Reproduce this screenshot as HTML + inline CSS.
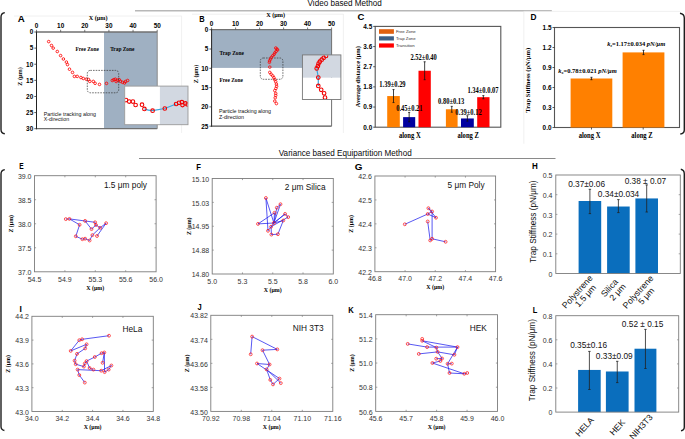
<!DOCTYPE html>
<html><head><meta charset="utf-8"><style>
html,body{margin:0;padding:0;background:#fff;width:685px;height:439px;overflow:hidden}
svg{display:block}
</style></head><body>
<svg width="685" height="439" viewBox="0 0 685 439">
<rect width="685" height="439" fill="#fff"/>
<line x1="135.00" y1="10.80" x2="551.80" y2="10.80" stroke="#b8b8b8" stroke-width="1.6"/>
<text x="307.6" y="6.2" font-family="'Liberation Sans', sans-serif" font-size="8.5" textLength="74.3" lengthAdjust="spacingAndGlyphs" fill="#0a0a0a">Video based Method</text>
<text x="278.8" y="155.9" font-family="'Liberation Sans', sans-serif" font-size="8.5" textLength="132.9" lengthAdjust="spacingAndGlyphs" fill="#0a0a0a">Variance based Equipartition Method</text>
<line x1="139.00" y1="158.50" x2="555.50" y2="158.50" stroke="#8a8a8a" stroke-width="1.2"/>
<path d="M4.8 12.6 Q1.0 13.2 1.0 17 L1.0 129.5 Q1.0 133.3 4.8 133.8" stroke="#1e1e1e" stroke-width="1.4" fill="none"/>
<path d="M680 13.2 Q684.3 14 684.3 18 L684.3 130 Q684.3 133.6 680.3 134" stroke="#1e1e1e" stroke-width="1.4" fill="none"/>
<path d="M4.8 169.6 Q1.0 170.2 1.0 174 L1.0 426.5 Q1.0 429.8 4.4 430.5" stroke="#1e1e1e" stroke-width="1.4" fill="none"/>
<path d="M680.8 169.3 Q684.3 170 684.3 174 L684.3 427 Q684.3 430.3 681 430.8" stroke="#1e1e1e" stroke-width="1.4" fill="none"/>
<line x1="14.00" y1="16.00" x2="181.60" y2="16.00" stroke="#ececec" stroke-width="0.8"/>
<line x1="181.60" y1="16.00" x2="181.60" y2="133.00" stroke="#ececec" stroke-width="0.8"/>
<line x1="343.40" y1="14.00" x2="343.40" y2="133.00" stroke="#ececec" stroke-width="0.8"/>
<line x1="192.00" y1="14.20" x2="343.40" y2="14.20" stroke="#ececec" stroke-width="0.8"/>
<line x1="523.80" y1="11.60" x2="523.80" y2="143.70" stroke="#ececec" stroke-width="0.8"/>
<line x1="523.80" y1="11.40" x2="680.00" y2="11.40" stroke="#ececec" stroke-width="0.8"/>
<text x="17.70" y="21.90" font-family="'Liberation Sans', sans-serif" font-size="8.5" font-weight="700" textLength="7.0" lengthAdjust="spacingAndGlyphs">A</text>
<rect x="104.00" y="32.00" width="53.20" height="96.70" fill="#9fb0c2" stroke="none" stroke-width="1"/>
<line x1="36.50" y1="32.00" x2="157.20" y2="32.00" stroke="#707070" stroke-width="1.4"/>
<line x1="36.50" y1="128.70" x2="157.20" y2="128.70" stroke="#707070" stroke-width="1.2"/>
<line x1="157.20" y1="32.00" x2="157.20" y2="128.70" stroke="#8a8a8a" stroke-width="1.0"/>
<line x1="36.50" y1="31.30" x2="36.50" y2="129.30" stroke="#222" stroke-width="1.0"/>
<line x1="36.50" y1="29.80" x2="36.50" y2="32.00" stroke="#555" stroke-width="0.8"/>
<text x="36.50" y="27.50" font-family="'Liberation Sans', sans-serif" font-size="6.4" font-weight="700" text-anchor="middle" fill="#000">0</text>
<line x1="60.64" y1="29.80" x2="60.64" y2="32.00" stroke="#555" stroke-width="0.8"/>
<text x="60.64" y="27.50" font-family="'Liberation Sans', sans-serif" font-size="6.4" font-weight="700" text-anchor="middle" fill="#000">10</text>
<line x1="84.78" y1="29.80" x2="84.78" y2="32.00" stroke="#555" stroke-width="0.8"/>
<text x="84.78" y="27.50" font-family="'Liberation Sans', sans-serif" font-size="6.4" font-weight="700" text-anchor="middle" fill="#000">20</text>
<line x1="108.92" y1="29.80" x2="108.92" y2="32.00" stroke="#555" stroke-width="0.8"/>
<text x="108.92" y="27.50" font-family="'Liberation Sans', sans-serif" font-size="6.4" font-weight="700" text-anchor="middle" fill="#000">30</text>
<line x1="133.06" y1="29.80" x2="133.06" y2="32.00" stroke="#555" stroke-width="0.8"/>
<text x="133.06" y="27.50" font-family="'Liberation Sans', sans-serif" font-size="6.4" font-weight="700" text-anchor="middle" fill="#000">40</text>
<line x1="157.20" y1="29.80" x2="157.20" y2="32.00" stroke="#555" stroke-width="0.8"/>
<text x="157.20" y="27.50" font-family="'Liberation Sans', sans-serif" font-size="6.4" font-weight="700" text-anchor="middle" fill="#000">50</text>
<line x1="34.30" y1="32.00" x2="36.50" y2="32.00" stroke="#333" stroke-width="0.8"/>
<text x="33.20" y="34.30" font-family="'Liberation Sans', sans-serif" font-size="6.4" font-weight="700" text-anchor="end" fill="#000">0</text>
<line x1="34.30" y1="48.12" x2="36.50" y2="48.12" stroke="#333" stroke-width="0.8"/>
<text x="33.20" y="50.42" font-family="'Liberation Sans', sans-serif" font-size="6.4" font-weight="700" text-anchor="end" fill="#000">5</text>
<line x1="34.30" y1="64.23" x2="36.50" y2="64.23" stroke="#333" stroke-width="0.8"/>
<text x="33.20" y="66.53" font-family="'Liberation Sans', sans-serif" font-size="6.4" font-weight="700" text-anchor="end" fill="#000">10</text>
<line x1="34.30" y1="80.35" x2="36.50" y2="80.35" stroke="#333" stroke-width="0.8"/>
<text x="33.20" y="82.65" font-family="'Liberation Sans', sans-serif" font-size="6.4" font-weight="700" text-anchor="end" fill="#000">15</text>
<line x1="34.30" y1="96.47" x2="36.50" y2="96.47" stroke="#333" stroke-width="0.8"/>
<text x="33.20" y="98.77" font-family="'Liberation Sans', sans-serif" font-size="6.4" font-weight="700" text-anchor="end" fill="#000">20</text>
<line x1="34.30" y1="112.58" x2="36.50" y2="112.58" stroke="#333" stroke-width="0.8"/>
<text x="33.20" y="114.88" font-family="'Liberation Sans', sans-serif" font-size="6.4" font-weight="700" text-anchor="end" fill="#000">25</text>
<line x1="34.30" y1="128.70" x2="36.50" y2="128.70" stroke="#333" stroke-width="0.8"/>
<text x="33.20" y="131.00" font-family="'Liberation Sans', sans-serif" font-size="6.4" font-weight="700" text-anchor="end" fill="#000">30</text>
<text x="98.20" y="19.60" font-family="'Liberation Serif', serif" font-size="6.2" font-weight="700" text-anchor="middle" fill="#000">X (μm)</text>
<text x="22.20" y="76.50" font-family="'Liberation Serif', serif" font-size="6.2" font-weight="700" text-anchor="middle" fill="#000" transform="rotate(-90 22.2 76.5)">Z (μm)</text>
<text x="87.20" y="51.40" font-family="'Liberation Serif', serif" font-size="5.4" font-weight="700" text-anchor="middle" fill="#000">Free Zone</text>
<text x="122.30" y="50.60" font-family="'Liberation Serif', serif" font-size="5.4" font-weight="700" text-anchor="middle" fill="#000">Trap Zone</text>
<circle cx="48.70" cy="41.60" r="1.3" fill="none" stroke="#ff0000" stroke-width="0.85"/>
<circle cx="51.50" cy="45.50" r="1.3" fill="none" stroke="#ff0000" stroke-width="0.85"/>
<circle cx="53.20" cy="48.10" r="1.3" fill="none" stroke="#ff0000" stroke-width="0.85"/>
<circle cx="57.30" cy="51.50" r="1.3" fill="none" stroke="#ff0000" stroke-width="0.85"/>
<circle cx="60.60" cy="55.60" r="1.3" fill="none" stroke="#ff0000" stroke-width="0.85"/>
<circle cx="63.40" cy="59.00" r="1.3" fill="none" stroke="#ff0000" stroke-width="0.85"/>
<circle cx="66.40" cy="62.10" r="1.3" fill="none" stroke="#ff0000" stroke-width="0.85"/>
<circle cx="67.50" cy="64.60" r="1.3" fill="none" stroke="#ff0000" stroke-width="0.85"/>
<circle cx="69.50" cy="69.20" r="1.3" fill="none" stroke="#ff0000" stroke-width="0.85"/>
<circle cx="72.50" cy="72.40" r="1.3" fill="none" stroke="#ff0000" stroke-width="0.85"/>
<circle cx="74.40" cy="76.40" r="1.3" fill="none" stroke="#ff0000" stroke-width="0.85"/>
<circle cx="77.20" cy="76.40" r="1.3" fill="none" stroke="#ff0000" stroke-width="0.85"/>
<circle cx="80.90" cy="77.50" r="1.3" fill="none" stroke="#ff0000" stroke-width="0.85"/>
<circle cx="83.30" cy="78.50" r="1.3" fill="none" stroke="#ff0000" stroke-width="0.85"/>
<circle cx="86.30" cy="79.20" r="1.3" fill="none" stroke="#ff0000" stroke-width="0.85"/>
<circle cx="88.50" cy="79.50" r="1.3" fill="none" stroke="#ff0000" stroke-width="0.85"/>
<circle cx="89.80" cy="81.40" r="1.3" fill="none" stroke="#ff0000" stroke-width="0.85"/>
<circle cx="93.30" cy="81.40" r="1.3" fill="none" stroke="#ff0000" stroke-width="0.85"/>
<circle cx="95.10" cy="83.30" r="1.3" fill="none" stroke="#ff0000" stroke-width="0.85"/>
<circle cx="99.50" cy="84.40" r="1.3" fill="none" stroke="#ff0000" stroke-width="0.85"/>
<circle cx="106.50" cy="83.40" r="1.3" fill="none" stroke="#ff0000" stroke-width="0.85"/>
<circle cx="112.30" cy="80.50" r="1.3" fill="none" stroke="#ff0000" stroke-width="0.85"/>
<circle cx="113.80" cy="79.70" r="1.3" fill="none" stroke="#ff0000" stroke-width="0.85"/>
<circle cx="115.30" cy="79.20" r="1.3" fill="none" stroke="#ff0000" stroke-width="0.85"/>
<circle cx="116.20" cy="81.50" r="1.3" fill="none" stroke="#ff0000" stroke-width="0.85"/>
<circle cx="117.40" cy="80.20" r="1.3" fill="none" stroke="#ff0000" stroke-width="0.85"/>
<circle cx="119.20" cy="79.70" r="1.3" fill="none" stroke="#ff0000" stroke-width="0.85"/>
<circle cx="120.40" cy="81.30" r="1.3" fill="none" stroke="#ff0000" stroke-width="0.85"/>
<circle cx="122.50" cy="82.30" r="1.3" fill="none" stroke="#ff0000" stroke-width="0.85"/>
<circle cx="124.50" cy="83.00" r="1.3" fill="none" stroke="#ff0000" stroke-width="0.85"/>
<circle cx="125.50" cy="81.50" r="1.3" fill="none" stroke="#ff0000" stroke-width="0.85"/>
<circle cx="127.60" cy="80.50" r="1.3" fill="none" stroke="#ff0000" stroke-width="0.85"/>
<rect x="87.3" y="70.4" width="31.4" height="22.4" rx="3" fill="none" stroke="#333" stroke-width="0.7" stroke-dasharray="1.6 1.1"/>
<text x="43.80" y="115.80" font-family="'Liberation Sans', sans-serif" font-size="5.3" font-weight="400" text-anchor="start" fill="#111">Particle tracking along</text>
<text x="43.80" y="121.40" font-family="'Liberation Sans', sans-serif" font-size="5.3" font-weight="400" text-anchor="start" fill="#111">X-direction</text>
<rect x="124.70" y="86.10" width="35.20" height="38.60" fill="#ffffff" stroke="none" stroke-width="1"/>
<rect x="159.90" y="86.10" width="28.10" height="38.60" fill="#d2d8e1" stroke="none" stroke-width="1"/>
<rect x="124.70" y="86.10" width="63.30" height="38.60" fill="none" stroke="#9a9a9a" stroke-width="0.9"/>
<clipPath id="ciA"><rect x="125.2" y="86.6" width="62.3" height="37.6"/></clipPath><g clip-path="url(#ciA)">
<path d="M144.4 108.9 Q148 110.5 152.6 110.7 L164.8 108.5 L176.1 104" stroke="#3aa6de" stroke-width="1.2" fill="none"/>
<circle cx="126.00" cy="100.10" r="1.8" fill="none" stroke="#f00000" stroke-width="1.1"/>
<circle cx="129.20" cy="101.60" r="1.8" fill="none" stroke="#f00000" stroke-width="1.1"/>
<circle cx="132.90" cy="101.60" r="1.8" fill="none" stroke="#f00000" stroke-width="1.1"/>
<circle cx="135.60" cy="105.00" r="1.8" fill="none" stroke="#f00000" stroke-width="1.1"/>
<circle cx="142.00" cy="104.70" r="1.8" fill="none" stroke="#f00000" stroke-width="1.1"/>
<circle cx="144.40" cy="108.90" r="1.8" fill="none" stroke="#f00000" stroke-width="1.1"/>
<circle cx="152.60" cy="110.70" r="1.8" fill="none" stroke="#f00000" stroke-width="1.1"/>
<circle cx="164.80" cy="108.50" r="1.8" fill="none" stroke="#f00000" stroke-width="1.1"/>
<circle cx="176.10" cy="104.00" r="1.8" fill="none" stroke="#f00000" stroke-width="1.1"/>
<circle cx="179.00" cy="102.80" r="1.8" fill="none" stroke="#f00000" stroke-width="1.1"/>
<circle cx="181.90" cy="102.20" r="1.8" fill="none" stroke="#f00000" stroke-width="1.1"/>
<circle cx="182.50" cy="105.10" r="1.8" fill="none" stroke="#f00000" stroke-width="1.1"/>
<circle cx="185.40" cy="103.40" r="1.8" fill="none" stroke="#f00000" stroke-width="1.1"/>
<circle cx="187.60" cy="104.50" r="1.8" fill="none" stroke="#f00000" stroke-width="1.1"/>
</g>
<text x="199.30" y="21.60" font-family="'Liberation Sans', sans-serif" font-size="8.5" font-weight="700" textLength="5.4" lengthAdjust="spacingAndGlyphs">B</text>
<rect x="211.60" y="29.70" width="120.00" height="38.20" fill="#9fb0c2" stroke="none" stroke-width="1"/>
<line x1="211.60" y1="29.70" x2="331.60" y2="29.70" stroke="#707070" stroke-width="1.2"/>
<line x1="211.60" y1="126.20" x2="331.60" y2="126.20" stroke="#555" stroke-width="1.2"/>
<line x1="331.60" y1="29.70" x2="331.60" y2="126.20" stroke="#707070" stroke-width="1.0"/>
<line x1="211.60" y1="29.10" x2="211.60" y2="126.80" stroke="#222" stroke-width="1.0"/>
<line x1="211.60" y1="27.50" x2="211.60" y2="29.70" stroke="#555" stroke-width="0.8"/>
<text x="211.60" y="25.50" font-family="'Liberation Sans', sans-serif" font-size="6.4" font-weight="700" text-anchor="middle" fill="#000">0</text>
<line x1="235.60" y1="27.50" x2="235.60" y2="29.70" stroke="#555" stroke-width="0.8"/>
<text x="235.60" y="25.50" font-family="'Liberation Sans', sans-serif" font-size="6.4" font-weight="700" text-anchor="middle" fill="#000">10</text>
<line x1="259.60" y1="27.50" x2="259.60" y2="29.70" stroke="#555" stroke-width="0.8"/>
<text x="259.60" y="25.50" font-family="'Liberation Sans', sans-serif" font-size="6.4" font-weight="700" text-anchor="middle" fill="#000">20</text>
<line x1="283.60" y1="27.50" x2="283.60" y2="29.70" stroke="#555" stroke-width="0.8"/>
<text x="283.60" y="25.50" font-family="'Liberation Sans', sans-serif" font-size="6.4" font-weight="700" text-anchor="middle" fill="#000">30</text>
<line x1="307.60" y1="27.50" x2="307.60" y2="29.70" stroke="#555" stroke-width="0.8"/>
<text x="307.60" y="25.50" font-family="'Liberation Sans', sans-serif" font-size="6.4" font-weight="700" text-anchor="middle" fill="#000">40</text>
<line x1="331.60" y1="27.50" x2="331.60" y2="29.70" stroke="#555" stroke-width="0.8"/>
<text x="331.60" y="25.50" font-family="'Liberation Sans', sans-serif" font-size="6.4" font-weight="700" text-anchor="middle" fill="#000">50</text>
<line x1="209.40" y1="29.70" x2="211.60" y2="29.70" stroke="#333" stroke-width="0.8"/>
<text x="208.30" y="32.00" font-family="'Liberation Sans', sans-serif" font-size="6.4" font-weight="700" text-anchor="end" fill="#000">0</text>
<line x1="209.40" y1="49.00" x2="211.60" y2="49.00" stroke="#333" stroke-width="0.8"/>
<text x="208.30" y="51.30" font-family="'Liberation Sans', sans-serif" font-size="6.4" font-weight="700" text-anchor="end" fill="#000">5</text>
<line x1="209.40" y1="68.30" x2="211.60" y2="68.30" stroke="#333" stroke-width="0.8"/>
<text x="208.30" y="70.60" font-family="'Liberation Sans', sans-serif" font-size="6.4" font-weight="700" text-anchor="end" fill="#000">10</text>
<line x1="209.40" y1="87.60" x2="211.60" y2="87.60" stroke="#333" stroke-width="0.8"/>
<text x="208.30" y="89.90" font-family="'Liberation Sans', sans-serif" font-size="6.4" font-weight="700" text-anchor="end" fill="#000">15</text>
<line x1="209.40" y1="106.90" x2="211.60" y2="106.90" stroke="#333" stroke-width="0.8"/>
<text x="208.30" y="109.20" font-family="'Liberation Sans', sans-serif" font-size="6.4" font-weight="700" text-anchor="end" fill="#000">20</text>
<line x1="209.40" y1="126.20" x2="211.60" y2="126.20" stroke="#333" stroke-width="0.8"/>
<text x="208.30" y="128.50" font-family="'Liberation Sans', sans-serif" font-size="6.4" font-weight="700" text-anchor="end" fill="#000">25</text>
<text x="275.60" y="16.60" font-family="'Liberation Serif', serif" font-size="6.2" font-weight="700" text-anchor="middle" fill="#000">X (μm)</text>
<text x="198.20" y="74.00" font-family="'Liberation Serif', serif" font-size="6.2" font-weight="700" text-anchor="middle" fill="#000" transform="rotate(-90 198.2 74)">Z (μm)</text>
<text x="231.70" y="54.70" font-family="'Liberation Serif', serif" font-size="5.4" font-weight="700" text-anchor="middle" fill="#000">Trap Zone</text>
<text x="231.20" y="82.00" font-family="'Liberation Serif', serif" font-size="5.4" font-weight="700" text-anchor="middle" fill="#000">Free Zone</text>
<rect x="260.3" y="58" width="22.6" height="21.3" rx="3" fill="none" stroke="#333" stroke-width="0.7" stroke-dasharray="1.6 1.1"/>
<circle cx="275.80" cy="48.00" r="1.3" fill="none" stroke="#ff0000" stroke-width="0.8"/>
<circle cx="276.90" cy="49.10" r="1.3" fill="none" stroke="#ff0000" stroke-width="0.8"/>
<circle cx="277.60" cy="50.00" r="1.3" fill="none" stroke="#ff0000" stroke-width="0.8"/>
<circle cx="276.10" cy="51.40" r="1.3" fill="none" stroke="#ff0000" stroke-width="0.8"/>
<circle cx="274.90" cy="52.80" r="1.3" fill="none" stroke="#ff0000" stroke-width="0.8"/>
<circle cx="274.10" cy="54.40" r="1.3" fill="none" stroke="#ff0000" stroke-width="0.8"/>
<circle cx="272.80" cy="55.70" r="1.3" fill="none" stroke="#ff0000" stroke-width="0.8"/>
<circle cx="271.40" cy="57.30" r="1.3" fill="none" stroke="#ff0000" stroke-width="0.8"/>
<circle cx="270.50" cy="59.10" r="1.3" fill="none" stroke="#ff0000" stroke-width="0.8"/>
<circle cx="269.60" cy="60.80" r="1.3" fill="none" stroke="#ff0000" stroke-width="0.8"/>
<circle cx="269.40" cy="62.30" r="1.3" fill="none" stroke="#ff0000" stroke-width="0.8"/>
<circle cx="269.80" cy="67.10" r="1.3" fill="none" stroke="#ff0000" stroke-width="0.8"/>
<circle cx="269.80" cy="72.40" r="1.3" fill="none" stroke="#ff0000" stroke-width="0.8"/>
<circle cx="271.10" cy="74.20" r="1.3" fill="none" stroke="#ff0000" stroke-width="0.8"/>
<circle cx="272.80" cy="75.90" r="1.3" fill="none" stroke="#ff0000" stroke-width="0.8"/>
<circle cx="273.90" cy="77.70" r="1.3" fill="none" stroke="#ff0000" stroke-width="0.8"/>
<circle cx="274.80" cy="79.70" r="1.3" fill="none" stroke="#ff0000" stroke-width="0.8"/>
<circle cx="275.70" cy="81.70" r="1.3" fill="none" stroke="#ff0000" stroke-width="0.8"/>
<circle cx="276.40" cy="84.10" r="1.3" fill="none" stroke="#ff0000" stroke-width="0.8"/>
<circle cx="276.60" cy="86.30" r="1.3" fill="none" stroke="#ff0000" stroke-width="0.8"/>
<circle cx="275.90" cy="88.40" r="1.3" fill="none" stroke="#ff0000" stroke-width="0.8"/>
<circle cx="274.80" cy="90.60" r="1.3" fill="none" stroke="#ff0000" stroke-width="0.8"/>
<circle cx="275.70" cy="93.40" r="1.3" fill="none" stroke="#ff0000" stroke-width="0.8"/>
<circle cx="275.70" cy="95.40" r="1.3" fill="none" stroke="#ff0000" stroke-width="0.8"/>
<circle cx="275.20" cy="97.80" r="1.3" fill="none" stroke="#ff0000" stroke-width="0.8"/>
<circle cx="274.80" cy="101.10" r="1.3" fill="none" stroke="#ff0000" stroke-width="0.8"/>
<circle cx="276.40" cy="103.60" r="1.3" fill="none" stroke="#ff0000" stroke-width="0.8"/>
<text x="218.90" y="112.80" font-family="'Liberation Sans', sans-serif" font-size="5.3" font-weight="400" text-anchor="start" fill="#111">Particle tracking along</text>
<text x="218.90" y="118.60" font-family="'Liberation Sans', sans-serif" font-size="5.3" font-weight="400" text-anchor="start" fill="#111">Z-direction</text>
<rect x="302.40" y="54.90" width="38.50" height="22.90" fill="#d2d8e1" stroke="none" stroke-width="1"/>
<rect x="302.40" y="77.80" width="38.50" height="21.70" fill="#ffffff" stroke="none" stroke-width="1"/>
<rect x="302.40" y="54.90" width="38.50" height="44.60" fill="none" stroke="#777" stroke-width="0.9"/>
<clipPath id="ciB"><rect x="302.9" y="55.4" width="37.5" height="43.6"/></clipPath><g clip-path="url(#ciB)">
<path d="M316.7 68.4 L318.3 77.6 L318.3 85.9" stroke="#3aa6de" stroke-width="1.2" fill="none"/>
<circle cx="326.00" cy="55.90" r="1.8" fill="none" stroke="#f00000" stroke-width="1.1"/>
<circle cx="323.70" cy="57.80" r="1.8" fill="none" stroke="#f00000" stroke-width="1.1"/>
<circle cx="321.70" cy="59.70" r="1.8" fill="none" stroke="#f00000" stroke-width="1.1"/>
<circle cx="319.80" cy="61.70" r="1.8" fill="none" stroke="#f00000" stroke-width="1.1"/>
<circle cx="318.60" cy="63.60" r="1.8" fill="none" stroke="#f00000" stroke-width="1.1"/>
<circle cx="317.90" cy="66.10" r="1.8" fill="none" stroke="#f00000" stroke-width="1.1"/>
<circle cx="316.70" cy="68.40" r="1.8" fill="none" stroke="#f00000" stroke-width="1.1"/>
<circle cx="318.30" cy="77.60" r="1.8" fill="none" stroke="#f00000" stroke-width="1.1"/>
<circle cx="318.30" cy="85.90" r="1.8" fill="none" stroke="#f00000" stroke-width="1.1"/>
<circle cx="321.20" cy="89.80" r="1.8" fill="none" stroke="#f00000" stroke-width="1.1"/>
<circle cx="324.10" cy="93.30" r="1.8" fill="none" stroke="#f00000" stroke-width="1.1"/>
<circle cx="325.00" cy="97.50" r="1.8" fill="none" stroke="#f00000" stroke-width="1.1"/>
</g>
<text x="357.50" y="19.80" font-family="'Liberation Sans', sans-serif" font-size="8.5" font-weight="700" textLength="6.9" lengthAdjust="spacingAndGlyphs">C</text>
<rect x="375.20" y="26.40" width="125.60" height="100.80" fill="none" stroke="#555" stroke-width="1.1"/>
<line x1="373.20" y1="127.20" x2="375.20" y2="127.20" stroke="#333" stroke-width="0.8"/>
<text x="372.20" y="129.50" font-family="'Liberation Sans', sans-serif" font-size="6.4" font-weight="700" text-anchor="end" fill="#000">0.0</text>
<line x1="373.20" y1="107.04" x2="375.20" y2="107.04" stroke="#333" stroke-width="0.8"/>
<text x="372.20" y="109.34" font-family="'Liberation Sans', sans-serif" font-size="6.4" font-weight="700" text-anchor="end" fill="#000">0.9</text>
<line x1="373.20" y1="86.88" x2="375.20" y2="86.88" stroke="#333" stroke-width="0.8"/>
<text x="372.20" y="89.18" font-family="'Liberation Sans', sans-serif" font-size="6.4" font-weight="700" text-anchor="end" fill="#000">1.8</text>
<line x1="373.20" y1="66.72" x2="375.20" y2="66.72" stroke="#333" stroke-width="0.8"/>
<text x="372.20" y="69.02" font-family="'Liberation Sans', sans-serif" font-size="6.4" font-weight="700" text-anchor="end" fill="#000">2.7</text>
<line x1="373.20" y1="46.56" x2="375.20" y2="46.56" stroke="#333" stroke-width="0.8"/>
<text x="372.20" y="48.86" font-family="'Liberation Sans', sans-serif" font-size="6.4" font-weight="700" text-anchor="end" fill="#000">3.6</text>
<line x1="373.20" y1="26.40" x2="375.20" y2="26.40" stroke="#333" stroke-width="0.8"/>
<text x="372.20" y="28.70" font-family="'Liberation Sans', sans-serif" font-size="6.4" font-weight="700" text-anchor="end" fill="#000">4.5</text>
<text x="359.80" y="76.70" font-family="'Liberation Serif', serif" font-size="6.4" font-weight="700" text-anchor="middle" fill="#000" transform="rotate(-90 359.8 76.7)">Average distance (μm)</text>
<rect x="379.00" y="29.20" width="14.90" height="4.60" fill="#e0600f" stroke="none" stroke-width="1"/>
<rect x="379.00" y="36.30" width="14.90" height="4.20" fill="#3d5f86" stroke="none" stroke-width="1"/>
<rect x="379.00" y="43.40" width="14.90" height="4.20" fill="#ff0000" stroke="none" stroke-width="1"/>
<text x="395.90" y="33.10" font-family="'Liberation Sans', sans-serif" font-size="4.3" font-weight="400" text-anchor="start" fill="#333">Free Zone</text>
<text x="395.90" y="40.10" font-family="'Liberation Sans', sans-serif" font-size="4.3" font-weight="400" text-anchor="start" fill="#333">Trap Zone</text>
<text x="395.90" y="47.00" font-family="'Liberation Sans', sans-serif" font-size="4.3" font-weight="400" text-anchor="start" fill="#333">Transition</text>
<rect x="387.20" y="96.06" width="12.60" height="31.14" fill="#ff8000" stroke="none" stroke-width="1"/>
<line x1="393.50" y1="89.57" x2="393.50" y2="102.56" stroke="#111" stroke-width="0.8"/>
<line x1="392.50" y1="89.57" x2="394.50" y2="89.57" stroke="#111" stroke-width="0.8"/>
<line x1="392.50" y1="102.56" x2="394.50" y2="102.56" stroke="#111" stroke-width="0.8"/>
<rect x="403.10" y="117.12" width="12.10" height="10.08" fill="#0000a0" stroke="none" stroke-width="1"/>
<line x1="409.15" y1="112.42" x2="409.15" y2="121.82" stroke="#111" stroke-width="0.8"/>
<line x1="408.15" y1="112.42" x2="410.15" y2="112.42" stroke="#111" stroke-width="0.8"/>
<line x1="408.15" y1="121.82" x2="410.15" y2="121.82" stroke="#111" stroke-width="0.8"/>
<rect x="418.50" y="70.75" width="12.30" height="56.45" fill="#ff0000" stroke="none" stroke-width="1"/>
<line x1="424.65" y1="61.79" x2="424.65" y2="79.71" stroke="#111" stroke-width="0.8"/>
<line x1="423.65" y1="61.79" x2="425.65" y2="61.79" stroke="#111" stroke-width="0.8"/>
<line x1="423.65" y1="79.71" x2="425.65" y2="79.71" stroke="#111" stroke-width="0.8"/>
<rect x="445.90" y="109.28" width="11.70" height="17.92" fill="#ff8000" stroke="none" stroke-width="1"/>
<line x1="451.75" y1="106.37" x2="451.75" y2="112.19" stroke="#111" stroke-width="0.8"/>
<line x1="450.75" y1="106.37" x2="452.75" y2="106.37" stroke="#111" stroke-width="0.8"/>
<line x1="450.75" y1="112.19" x2="452.75" y2="112.19" stroke="#111" stroke-width="0.8"/>
<rect x="461.00" y="118.46" width="12.80" height="8.74" fill="#0000a0" stroke="none" stroke-width="1"/>
<line x1="467.40" y1="115.78" x2="467.40" y2="121.15" stroke="#111" stroke-width="0.8"/>
<line x1="466.40" y1="115.78" x2="468.40" y2="115.78" stroke="#111" stroke-width="0.8"/>
<line x1="466.40" y1="121.15" x2="468.40" y2="121.15" stroke="#111" stroke-width="0.8"/>
<rect x="477.20" y="97.18" width="12.30" height="30.02" fill="#ff0000" stroke="none" stroke-width="1"/>
<line x1="483.35" y1="95.62" x2="483.35" y2="98.75" stroke="#111" stroke-width="0.8"/>
<line x1="482.35" y1="95.62" x2="484.35" y2="95.62" stroke="#111" stroke-width="0.8"/>
<line x1="482.35" y1="98.75" x2="484.35" y2="98.75" stroke="#111" stroke-width="0.8"/>
<text x="392.50" y="87.20" font-family="'Liberation Serif', serif" font-size="6.5" font-weight="700" text-anchor="middle" fill="#000" transform="matrix(1 0 0 1.14 0 -12.208)">1.39±0.29</text>
<text x="409.40" y="111.10" font-family="'Liberation Serif', serif" font-size="6.5" font-weight="700" text-anchor="middle" fill="#000" transform="matrix(1 0 0 1.14 0 -15.554)">0.45±0.21</text>
<text x="423.60" y="59.80" font-family="'Liberation Serif', serif" font-size="6.5" font-weight="700" text-anchor="middle" fill="#000" transform="matrix(1 0 0 1.14 0 -8.372)">2.52±0.40</text>
<text x="451.20" y="104.20" font-family="'Liberation Serif', serif" font-size="6.5" font-weight="700" text-anchor="middle" fill="#000" transform="matrix(1 0 0 1.14 0 -14.588)">0.80±0.13</text>
<text x="468.50" y="114.70" font-family="'Liberation Serif', serif" font-size="6.5" font-weight="700" text-anchor="middle" fill="#000" transform="matrix(1 0 0 1.14 0 -16.058)">0.39±0.12</text>
<text x="483.00" y="93.40" font-family="'Liberation Serif', serif" font-size="6.5" font-weight="700" text-anchor="middle" fill="#000" transform="matrix(1 0 0 1.14 0 -13.076)">1.34±0.0.07</text>
<text x="409.80" y="137.60" font-family="'Liberation Serif', serif" font-size="6.6" font-weight="700" text-anchor="middle" fill="#000" transform="matrix(1 0 0 1.1 0 -13.760)">along X</text>
<text x="468.20" y="137.60" font-family="'Liberation Serif', serif" font-size="6.6" font-weight="700" text-anchor="middle" fill="#000" transform="matrix(1 0 0 1.1 0 -13.760)">along Z</text>
<text x="530.50" y="19.80" font-family="'Liberation Sans', sans-serif" font-size="8.5" font-weight="700" textLength="6.0" lengthAdjust="spacingAndGlyphs">D</text>
<rect x="554.50" y="27.50" width="125.00" height="100.00" fill="none" stroke="#555" stroke-width="1.1"/>
<line x1="552.50" y1="127.50" x2="554.50" y2="127.50" stroke="#333" stroke-width="0.8"/>
<text x="551.50" y="129.80" font-family="'Liberation Sans', sans-serif" font-size="6.4" font-weight="700" text-anchor="end" fill="#000">0.0</text>
<line x1="552.50" y1="107.50" x2="554.50" y2="107.50" stroke="#333" stroke-width="0.8"/>
<text x="551.50" y="109.80" font-family="'Liberation Sans', sans-serif" font-size="6.4" font-weight="700" text-anchor="end" fill="#000">0.3</text>
<line x1="552.50" y1="87.50" x2="554.50" y2="87.50" stroke="#333" stroke-width="0.8"/>
<text x="551.50" y="89.80" font-family="'Liberation Sans', sans-serif" font-size="6.4" font-weight="700" text-anchor="end" fill="#000">0.6</text>
<line x1="552.50" y1="67.50" x2="554.50" y2="67.50" stroke="#333" stroke-width="0.8"/>
<text x="551.50" y="69.80" font-family="'Liberation Sans', sans-serif" font-size="6.4" font-weight="700" text-anchor="end" fill="#000">0.9</text>
<line x1="552.50" y1="47.50" x2="554.50" y2="47.50" stroke="#333" stroke-width="0.8"/>
<text x="551.50" y="49.80" font-family="'Liberation Sans', sans-serif" font-size="6.4" font-weight="700" text-anchor="end" fill="#000">1.2</text>
<line x1="552.50" y1="27.50" x2="554.50" y2="27.50" stroke="#333" stroke-width="0.8"/>
<text x="551.50" y="29.80" font-family="'Liberation Sans', sans-serif" font-size="6.4" font-weight="700" text-anchor="end" fill="#000">1.5</text>
<text x="529.60" y="80.30" font-family="'Liberation Serif', serif" font-size="6.6" font-weight="700" text-anchor="middle" fill="#000" transform="rotate(-90 529.6 80.3)">Trap Stiffness (pN/μm)</text>
<rect x="570.60" y="78.50" width="41.70" height="49.00" fill="#ff8000" stroke="none" stroke-width="1"/>
<line x1="591.45" y1="77.30" x2="591.45" y2="79.70" stroke="#111" stroke-width="0.8"/>
<line x1="590.45" y1="77.30" x2="592.45" y2="77.30" stroke="#111" stroke-width="0.8"/>
<line x1="590.45" y1="79.70" x2="592.45" y2="79.70" stroke="#111" stroke-width="0.8"/>
<rect x="622.60" y="52.40" width="41.80" height="75.10" fill="#ff8000" stroke="none" stroke-width="1"/>
<line x1="643.50" y1="50.30" x2="643.50" y2="54.60" stroke="#111" stroke-width="0.8"/>
<line x1="642.50" y1="50.30" x2="644.50" y2="50.30" stroke="#111" stroke-width="0.8"/>
<line x1="642.50" y1="54.60" x2="644.50" y2="54.60" stroke="#111" stroke-width="0.8"/>
<text x="558.3" y="72.6" transform="matrix(1 0 0 1.08 0 -5.808)" font-family="'Liberation Serif', serif" font-size="6.5" font-weight="700"><tspan font-style="italic">k</tspan><tspan font-size="4" dy="1.2" font-style="italic">x</tspan><tspan dy="-1.2">=0.78±0.021 </tspan><tspan font-style="italic">pN/μm</tspan></text>
<text x="607.2" y="46.2" transform="matrix(1 0 0 1.08 0 -3.696)" font-family="'Liberation Serif', serif" font-size="6.5" font-weight="700"><tspan font-style="italic">k</tspan><tspan font-size="4" dy="1.2" font-style="italic">z</tspan><tspan dy="-1.2">=1.17±0.034 </tspan><tspan font-style="italic">pN/μm</tspan></text>
<text x="589.60" y="137.80" font-family="'Liberation Serif', serif" font-size="6.6" font-weight="700" text-anchor="middle" fill="#000" transform="matrix(1 0 0 1.1 0 -13.780)">along X</text>
<line x1="591.50" y1="127.50" x2="591.50" y2="129.50" stroke="#333" stroke-width="0.8"/>
<line x1="643.20" y1="127.50" x2="643.20" y2="129.50" stroke="#333" stroke-width="0.8"/>
<text x="642.00" y="137.80" font-family="'Liberation Serif', serif" font-size="6.6" font-weight="700" text-anchor="middle" fill="#000" transform="matrix(1 0 0 1.1 0 -13.780)">along Z</text>
<text x="19.30" y="169.00" font-family="'Liberation Sans', sans-serif" font-size="8.5" font-weight="700" textLength="4.4" lengthAdjust="spacingAndGlyphs">E</text>
<rect x="34.50" y="175.70" width="121.60" height="96.10" fill="none" stroke="#7c7c7c" stroke-width="0.9"/>
<text x="34.50" y="281.60" font-family="'Liberation Sans', sans-serif" font-size="7" font-weight="400" text-anchor="middle" fill="#333" transform="matrix(1 0 0 1.12 0 -33.792)">54.5</text>
<line x1="64.90" y1="175.70" x2="64.90" y2="177.30" stroke="#7c7c7c" stroke-width="0.7"/>
<line x1="64.90" y1="271.80" x2="64.90" y2="270.20" stroke="#7c7c7c" stroke-width="0.7"/>
<text x="64.90" y="281.60" font-family="'Liberation Sans', sans-serif" font-size="7" font-weight="400" text-anchor="middle" fill="#333" transform="matrix(1 0 0 1.12 0 -33.792)">54.9</text>
<line x1="95.30" y1="175.70" x2="95.30" y2="177.30" stroke="#7c7c7c" stroke-width="0.7"/>
<line x1="95.30" y1="271.80" x2="95.30" y2="270.20" stroke="#7c7c7c" stroke-width="0.7"/>
<text x="95.30" y="281.60" font-family="'Liberation Sans', sans-serif" font-size="7" font-weight="400" text-anchor="middle" fill="#333" transform="matrix(1 0 0 1.12 0 -33.792)">55.3</text>
<line x1="125.70" y1="175.70" x2="125.70" y2="177.30" stroke="#7c7c7c" stroke-width="0.7"/>
<line x1="125.70" y1="271.80" x2="125.70" y2="270.20" stroke="#7c7c7c" stroke-width="0.7"/>
<text x="125.70" y="281.60" font-family="'Liberation Sans', sans-serif" font-size="7" font-weight="400" text-anchor="middle" fill="#333" transform="matrix(1 0 0 1.12 0 -33.792)">55.6</text>
<text x="156.10" y="281.60" font-family="'Liberation Sans', sans-serif" font-size="7" font-weight="400" text-anchor="middle" fill="#333" transform="matrix(1 0 0 1.12 0 -33.792)">56.0</text>
<text x="31.50" y="275.00" font-family="'Liberation Sans', sans-serif" font-size="7" font-weight="400" text-anchor="end" fill="#333" transform="matrix(1 0 0 1.12 0 -33.000)">37.0</text>
<line x1="34.50" y1="247.78" x2="36.10" y2="247.78" stroke="#7c7c7c" stroke-width="0.7"/>
<line x1="156.10" y1="247.78" x2="154.50" y2="247.78" stroke="#7c7c7c" stroke-width="0.7"/>
<text x="31.50" y="250.97" font-family="'Liberation Sans', sans-serif" font-size="7" font-weight="400" text-anchor="end" fill="#333" transform="matrix(1 0 0 1.12 0 -30.117)">37.5</text>
<line x1="34.50" y1="223.75" x2="36.10" y2="223.75" stroke="#7c7c7c" stroke-width="0.7"/>
<line x1="156.10" y1="223.75" x2="154.50" y2="223.75" stroke="#7c7c7c" stroke-width="0.7"/>
<text x="31.50" y="226.95" font-family="'Liberation Sans', sans-serif" font-size="7" font-weight="400" text-anchor="end" fill="#333" transform="matrix(1 0 0 1.12 0 -27.234)">38.0</text>
<line x1="34.50" y1="199.72" x2="36.10" y2="199.72" stroke="#7c7c7c" stroke-width="0.7"/>
<line x1="156.10" y1="199.72" x2="154.50" y2="199.72" stroke="#7c7c7c" stroke-width="0.7"/>
<text x="31.50" y="202.92" font-family="'Liberation Sans', sans-serif" font-size="7" font-weight="400" text-anchor="end" fill="#333" transform="matrix(1 0 0 1.12 0 -24.351)">38.5</text>
<text x="31.50" y="178.90" font-family="'Liberation Sans', sans-serif" font-size="7" font-weight="400" text-anchor="end" fill="#333" transform="matrix(1 0 0 1.12 0 -21.468)">39.0</text>
<text x="95.30" y="289.50" font-family="'Liberation Serif', serif" font-size="5.9" font-weight="700" text-anchor="middle" fill="#000">X (μm)</text>
<text x="12.90" y="223.75" font-family="'Liberation Serif', serif" font-size="5.9" font-weight="700" text-anchor="middle" fill="#000" transform="rotate(-90 12.899999999999999 223.75)">Z (μm)</text>
<text x="147.00" y="188.20" font-family="'Liberation Sans', sans-serif" font-size="8.3" font-weight="400" text-anchor="end" fill="#111">1.5 μm poly</text>
<path d="M65.8 219.1 L69.4 218.9 L79.6 224.8 L75.8 236.3 L82.4 239.2 L85.1 238.7 L89.6 240.5 L92.4 235.1 L100.1 227.8 L106.1 223.2 L97.0 236.0 M69.4 218.9 L95.1 222.3 L96.0 225.0 L100.1 227.8 M85.1 220.9 L91.5 229.1 L96.0 225.0 " stroke="#2020ee" stroke-width="0.75" fill="none" stroke-linejoin="round"/>
<circle cx="65.80" cy="219.10" r="1.45" fill="none" stroke="#ff1010" stroke-width="0.7"/>
<circle cx="69.40" cy="218.90" r="1.45" fill="none" stroke="#ff1010" stroke-width="0.7"/>
<circle cx="79.60" cy="224.80" r="1.45" fill="none" stroke="#ff1010" stroke-width="0.7"/>
<circle cx="75.80" cy="236.30" r="1.45" fill="none" stroke="#ff1010" stroke-width="0.7"/>
<circle cx="82.40" cy="239.20" r="1.45" fill="none" stroke="#ff1010" stroke-width="0.7"/>
<circle cx="85.10" cy="238.70" r="1.45" fill="none" stroke="#ff1010" stroke-width="0.7"/>
<circle cx="89.60" cy="240.50" r="1.45" fill="none" stroke="#ff1010" stroke-width="0.7"/>
<circle cx="92.40" cy="235.10" r="1.45" fill="none" stroke="#ff1010" stroke-width="0.7"/>
<circle cx="97.00" cy="236.00" r="1.45" fill="none" stroke="#ff1010" stroke-width="0.7"/>
<circle cx="100.10" cy="227.80" r="1.45" fill="none" stroke="#ff1010" stroke-width="0.7"/>
<circle cx="106.10" cy="223.20" r="1.45" fill="none" stroke="#ff1010" stroke-width="0.7"/>
<circle cx="95.10" cy="222.30" r="1.45" fill="none" stroke="#ff1010" stroke-width="0.7"/>
<circle cx="85.10" cy="220.90" r="1.45" fill="none" stroke="#ff1010" stroke-width="0.7"/>
<circle cx="91.50" cy="229.10" r="1.45" fill="none" stroke="#ff1010" stroke-width="0.7"/>
<circle cx="96.00" cy="225.00" r="1.45" fill="none" stroke="#ff1010" stroke-width="0.7"/>
<text x="196.30" y="169.90" font-family="'Liberation Sans', sans-serif" font-size="8.5" font-weight="700" textLength="4.7" lengthAdjust="spacingAndGlyphs">F</text>
<rect x="212.20" y="178.50" width="121.10" height="95.50" fill="none" stroke="#7c7c7c" stroke-width="0.9"/>
<text x="212.20" y="283.80" font-family="'Liberation Sans', sans-serif" font-size="7" font-weight="400" text-anchor="middle" fill="#333" transform="matrix(1 0 0 1.12 0 -34.056)">5.0</text>
<line x1="242.47" y1="178.50" x2="242.47" y2="180.10" stroke="#7c7c7c" stroke-width="0.7"/>
<line x1="242.47" y1="274.00" x2="242.47" y2="272.40" stroke="#7c7c7c" stroke-width="0.7"/>
<text x="242.47" y="283.80" font-family="'Liberation Sans', sans-serif" font-size="7" font-weight="400" text-anchor="middle" fill="#333" transform="matrix(1 0 0 1.12 0 -34.056)">5.3</text>
<line x1="272.75" y1="178.50" x2="272.75" y2="180.10" stroke="#7c7c7c" stroke-width="0.7"/>
<line x1="272.75" y1="274.00" x2="272.75" y2="272.40" stroke="#7c7c7c" stroke-width="0.7"/>
<text x="272.75" y="283.80" font-family="'Liberation Sans', sans-serif" font-size="7" font-weight="400" text-anchor="middle" fill="#333" transform="matrix(1 0 0 1.12 0 -34.056)">5.5</text>
<line x1="303.02" y1="178.50" x2="303.02" y2="180.10" stroke="#7c7c7c" stroke-width="0.7"/>
<line x1="303.02" y1="274.00" x2="303.02" y2="272.40" stroke="#7c7c7c" stroke-width="0.7"/>
<text x="303.02" y="283.80" font-family="'Liberation Sans', sans-serif" font-size="7" font-weight="400" text-anchor="middle" fill="#333" transform="matrix(1 0 0 1.12 0 -34.056)">5.8</text>
<text x="333.30" y="283.80" font-family="'Liberation Sans', sans-serif" font-size="7" font-weight="400" text-anchor="middle" fill="#333" transform="matrix(1 0 0 1.12 0 -34.056)">6.0</text>
<text x="209.20" y="277.20" font-family="'Liberation Sans', sans-serif" font-size="7" font-weight="400" text-anchor="end" fill="#333" transform="matrix(1 0 0 1.12 0 -33.264)">14.80</text>
<line x1="212.20" y1="250.12" x2="213.80" y2="250.12" stroke="#7c7c7c" stroke-width="0.7"/>
<line x1="333.30" y1="250.12" x2="331.70" y2="250.12" stroke="#7c7c7c" stroke-width="0.7"/>
<text x="209.20" y="253.32" font-family="'Liberation Sans', sans-serif" font-size="7" font-weight="400" text-anchor="end" fill="#333" transform="matrix(1 0 0 1.12 0 -30.399)">14.88</text>
<line x1="212.20" y1="226.25" x2="213.80" y2="226.25" stroke="#7c7c7c" stroke-width="0.7"/>
<line x1="333.30" y1="226.25" x2="331.70" y2="226.25" stroke="#7c7c7c" stroke-width="0.7"/>
<text x="209.20" y="229.45" font-family="'Liberation Sans', sans-serif" font-size="7" font-weight="400" text-anchor="end" fill="#333" transform="matrix(1 0 0 1.12 0 -27.534)">14.95</text>
<line x1="212.20" y1="202.38" x2="213.80" y2="202.38" stroke="#7c7c7c" stroke-width="0.7"/>
<line x1="333.30" y1="202.38" x2="331.70" y2="202.38" stroke="#7c7c7c" stroke-width="0.7"/>
<text x="209.20" y="205.57" font-family="'Liberation Sans', sans-serif" font-size="7" font-weight="400" text-anchor="end" fill="#333" transform="matrix(1 0 0 1.12 0 -24.669)">15.03</text>
<text x="209.20" y="181.70" font-family="'Liberation Sans', sans-serif" font-size="7" font-weight="400" text-anchor="end" fill="#333" transform="matrix(1 0 0 1.12 0 -21.804)">15.10</text>
<text x="272.75" y="291.70" font-family="'Liberation Serif', serif" font-size="5.9" font-weight="700" text-anchor="middle" fill="#000">X (μm)</text>
<text x="190.60" y="226.25" font-family="'Liberation Serif', serif" font-size="5.9" font-weight="700" text-anchor="middle" fill="#000" transform="rotate(-90 190.6 226.25)">Z (μm)</text>
<text x="325.50" y="190.20" font-family="'Liberation Sans', sans-serif" font-size="8.3" font-weight="400" text-anchor="end" fill="#111">2 μm Silica</text>
<path d="M265.9 198.0 L268.0 230.8 L271.1 226.7 L273.9 223.0 L276.8 207.7 L280.5 204.2 L273.9 223.0 L285.1 213.9 L288.2 217.1 L271.1 226.7 M265.9 198.0 L273.9 223.0 L258.0 223.9 L274.5 212.8 L273.9 223.0 M273.9 223.0 L283.3 220.5 L277.9 234.2 L271.4 234.6 L271.1 226.7 M285.1 213.9 L273.9 223.0 " stroke="#2020ee" stroke-width="0.75" fill="none" stroke-linejoin="round"/>
<circle cx="265.90" cy="198.00" r="1.45" fill="none" stroke="#ff1010" stroke-width="0.7"/>
<circle cx="280.50" cy="204.20" r="1.45" fill="none" stroke="#ff1010" stroke-width="0.7"/>
<circle cx="276.80" cy="207.70" r="1.45" fill="none" stroke="#ff1010" stroke-width="0.7"/>
<circle cx="274.50" cy="212.80" r="1.45" fill="none" stroke="#ff1010" stroke-width="0.7"/>
<circle cx="285.10" cy="213.90" r="1.45" fill="none" stroke="#ff1010" stroke-width="0.7"/>
<circle cx="288.20" cy="217.10" r="1.45" fill="none" stroke="#ff1010" stroke-width="0.7"/>
<circle cx="283.30" cy="220.50" r="1.45" fill="none" stroke="#ff1010" stroke-width="0.7"/>
<circle cx="258.00" cy="223.90" r="1.45" fill="none" stroke="#ff1010" stroke-width="0.7"/>
<circle cx="273.90" cy="223.00" r="1.45" fill="none" stroke="#ff1010" stroke-width="0.7"/>
<circle cx="271.10" cy="226.70" r="1.45" fill="none" stroke="#ff1010" stroke-width="0.7"/>
<circle cx="268.00" cy="230.80" r="1.45" fill="none" stroke="#ff1010" stroke-width="0.7"/>
<circle cx="271.40" cy="234.60" r="1.45" fill="none" stroke="#ff1010" stroke-width="0.7"/>
<circle cx="277.90" cy="234.20" r="1.45" fill="none" stroke="#ff1010" stroke-width="0.7"/>
<text x="354.70" y="169.50" font-family="'Liberation Sans', sans-serif" font-size="8.5" font-weight="700" textLength="7.7" lengthAdjust="spacingAndGlyphs">G</text>
<rect x="374.90" y="176.00" width="120.70" height="95.70" fill="none" stroke="#7c7c7c" stroke-width="0.9"/>
<text x="374.90" y="281.50" font-family="'Liberation Sans', sans-serif" font-size="7" font-weight="400" text-anchor="middle" fill="#333" transform="matrix(1 0 0 1.12 0 -33.780)">46.8</text>
<line x1="405.07" y1="176.00" x2="405.07" y2="177.60" stroke="#7c7c7c" stroke-width="0.7"/>
<line x1="405.07" y1="271.70" x2="405.07" y2="270.10" stroke="#7c7c7c" stroke-width="0.7"/>
<text x="405.07" y="281.50" font-family="'Liberation Sans', sans-serif" font-size="7" font-weight="400" text-anchor="middle" fill="#333" transform="matrix(1 0 0 1.12 0 -33.780)">47.0</text>
<line x1="435.25" y1="176.00" x2="435.25" y2="177.60" stroke="#7c7c7c" stroke-width="0.7"/>
<line x1="435.25" y1="271.70" x2="435.25" y2="270.10" stroke="#7c7c7c" stroke-width="0.7"/>
<text x="435.25" y="281.50" font-family="'Liberation Sans', sans-serif" font-size="7" font-weight="400" text-anchor="middle" fill="#333" transform="matrix(1 0 0 1.12 0 -33.780)">47.2</text>
<line x1="465.43" y1="176.00" x2="465.43" y2="177.60" stroke="#7c7c7c" stroke-width="0.7"/>
<line x1="465.43" y1="271.70" x2="465.43" y2="270.10" stroke="#7c7c7c" stroke-width="0.7"/>
<text x="465.43" y="281.50" font-family="'Liberation Sans', sans-serif" font-size="7" font-weight="400" text-anchor="middle" fill="#333" transform="matrix(1 0 0 1.12 0 -33.780)">47.4</text>
<text x="495.60" y="281.50" font-family="'Liberation Sans', sans-serif" font-size="7" font-weight="400" text-anchor="middle" fill="#333" transform="matrix(1 0 0 1.12 0 -33.780)">47.6</text>
<text x="371.90" y="274.90" font-family="'Liberation Sans', sans-serif" font-size="7" font-weight="400" text-anchor="end" fill="#333" transform="matrix(1 0 0 1.12 0 -32.988)">42.2</text>
<line x1="374.90" y1="247.77" x2="376.50" y2="247.77" stroke="#7c7c7c" stroke-width="0.7"/>
<line x1="495.60" y1="247.77" x2="494.00" y2="247.77" stroke="#7c7c7c" stroke-width="0.7"/>
<text x="371.90" y="250.97" font-family="'Liberation Sans', sans-serif" font-size="7" font-weight="400" text-anchor="end" fill="#333" transform="matrix(1 0 0 1.12 0 -30.117)">42.3</text>
<line x1="374.90" y1="223.85" x2="376.50" y2="223.85" stroke="#7c7c7c" stroke-width="0.7"/>
<line x1="495.60" y1="223.85" x2="494.00" y2="223.85" stroke="#7c7c7c" stroke-width="0.7"/>
<text x="371.90" y="227.05" font-family="'Liberation Sans', sans-serif" font-size="7" font-weight="400" text-anchor="end" fill="#333" transform="matrix(1 0 0 1.12 0 -27.246)">42.4</text>
<line x1="374.90" y1="199.93" x2="376.50" y2="199.93" stroke="#7c7c7c" stroke-width="0.7"/>
<line x1="495.60" y1="199.93" x2="494.00" y2="199.93" stroke="#7c7c7c" stroke-width="0.7"/>
<text x="371.90" y="203.12" font-family="'Liberation Sans', sans-serif" font-size="7" font-weight="400" text-anchor="end" fill="#333" transform="matrix(1 0 0 1.12 0 -24.375)">42.5</text>
<text x="371.90" y="179.20" font-family="'Liberation Sans', sans-serif" font-size="7" font-weight="400" text-anchor="end" fill="#333" transform="matrix(1 0 0 1.12 0 -21.504)">42.6</text>
<text x="435.25" y="289.40" font-family="'Liberation Serif', serif" font-size="5.9" font-weight="700" text-anchor="middle" fill="#000">X (μm)</text>
<text x="353.30" y="223.85" font-family="'Liberation Serif', serif" font-size="5.9" font-weight="700" text-anchor="middle" fill="#000" transform="rotate(-90 353.29999999999995 223.85)">Z (μm)</text>
<text x="484.60" y="188.30" font-family="'Liberation Sans', sans-serif" font-size="8.3" font-weight="400" text-anchor="end" fill="#111">5 μm Poly</text>
<path d="M404.8 224.3 L427.7 214.0 L432.1 211.5 L428.4 208.2 L436.0 217.7 M427.7 214.0 L436.0 217.7 M432.1 211.5 L432.1 238.8 L445.6 241.8 M427.7 221.5 L430.2 240.4 L432.1 238.8 " stroke="#2020ee" stroke-width="0.75" fill="none" stroke-linejoin="round"/>
<circle cx="404.80" cy="224.30" r="1.45" fill="none" stroke="#ff1010" stroke-width="0.7"/>
<circle cx="427.70" cy="214.00" r="1.45" fill="none" stroke="#ff1010" stroke-width="0.7"/>
<circle cx="428.40" cy="208.20" r="1.45" fill="none" stroke="#ff1010" stroke-width="0.7"/>
<circle cx="432.10" cy="211.50" r="1.45" fill="none" stroke="#ff1010" stroke-width="0.7"/>
<circle cx="436.00" cy="217.70" r="1.45" fill="none" stroke="#ff1010" stroke-width="0.7"/>
<circle cx="427.70" cy="221.50" r="1.45" fill="none" stroke="#ff1010" stroke-width="0.7"/>
<circle cx="430.20" cy="240.40" r="1.45" fill="none" stroke="#ff1010" stroke-width="0.7"/>
<circle cx="432.10" cy="238.80" r="1.45" fill="none" stroke="#ff1010" stroke-width="0.7"/>
<circle cx="445.60" cy="241.80" r="1.45" fill="none" stroke="#ff1010" stroke-width="0.7"/>
<text x="19.50" y="311.70" font-family="'Liberation Sans', sans-serif" font-size="8.5" font-weight="700">I</text>
<rect x="31.90" y="316.30" width="121.40" height="95.20" fill="none" stroke="#7c7c7c" stroke-width="0.9"/>
<text x="31.90" y="421.30" font-family="'Liberation Sans', sans-serif" font-size="7" font-weight="400" text-anchor="middle" fill="#333" transform="matrix(1 0 0 1.12 0 -50.556)">34.0</text>
<line x1="62.25" y1="316.30" x2="62.25" y2="317.90" stroke="#7c7c7c" stroke-width="0.7"/>
<line x1="62.25" y1="411.50" x2="62.25" y2="409.90" stroke="#7c7c7c" stroke-width="0.7"/>
<text x="62.25" y="421.30" font-family="'Liberation Sans', sans-serif" font-size="7" font-weight="400" text-anchor="middle" fill="#333" transform="matrix(1 0 0 1.12 0 -50.556)">34.2</text>
<line x1="92.60" y1="316.30" x2="92.60" y2="317.90" stroke="#7c7c7c" stroke-width="0.7"/>
<line x1="92.60" y1="411.50" x2="92.60" y2="409.90" stroke="#7c7c7c" stroke-width="0.7"/>
<text x="92.60" y="421.30" font-family="'Liberation Sans', sans-serif" font-size="7" font-weight="400" text-anchor="middle" fill="#333" transform="matrix(1 0 0 1.12 0 -50.556)">34.4</text>
<line x1="122.95" y1="316.30" x2="122.95" y2="317.90" stroke="#7c7c7c" stroke-width="0.7"/>
<line x1="122.95" y1="411.50" x2="122.95" y2="409.90" stroke="#7c7c7c" stroke-width="0.7"/>
<text x="122.95" y="421.30" font-family="'Liberation Sans', sans-serif" font-size="7" font-weight="400" text-anchor="middle" fill="#333" transform="matrix(1 0 0 1.12 0 -50.556)">34.6</text>
<text x="153.30" y="421.30" font-family="'Liberation Sans', sans-serif" font-size="7" font-weight="400" text-anchor="middle" fill="#333" transform="matrix(1 0 0 1.12 0 -50.556)">34.8</text>
<text x="28.90" y="414.70" font-family="'Liberation Sans', sans-serif" font-size="7" font-weight="400" text-anchor="end" fill="#333" transform="matrix(1 0 0 1.12 0 -49.764)">43.0</text>
<line x1="31.90" y1="387.70" x2="33.50" y2="387.70" stroke="#7c7c7c" stroke-width="0.7"/>
<line x1="153.30" y1="387.70" x2="151.70" y2="387.70" stroke="#7c7c7c" stroke-width="0.7"/>
<text x="28.90" y="390.90" font-family="'Liberation Sans', sans-serif" font-size="7" font-weight="400" text-anchor="end" fill="#333" transform="matrix(1 0 0 1.12 0 -46.908)">43.3</text>
<line x1="31.90" y1="363.90" x2="33.50" y2="363.90" stroke="#7c7c7c" stroke-width="0.7"/>
<line x1="153.30" y1="363.90" x2="151.70" y2="363.90" stroke="#7c7c7c" stroke-width="0.7"/>
<text x="28.90" y="367.10" font-family="'Liberation Sans', sans-serif" font-size="7" font-weight="400" text-anchor="end" fill="#333" transform="matrix(1 0 0 1.12 0 -44.052)">43.6</text>
<line x1="31.90" y1="340.10" x2="33.50" y2="340.10" stroke="#7c7c7c" stroke-width="0.7"/>
<line x1="153.30" y1="340.10" x2="151.70" y2="340.10" stroke="#7c7c7c" stroke-width="0.7"/>
<text x="28.90" y="343.30" font-family="'Liberation Sans', sans-serif" font-size="7" font-weight="400" text-anchor="end" fill="#333" transform="matrix(1 0 0 1.12 0 -41.196)">43.9</text>
<text x="28.90" y="319.50" font-family="'Liberation Sans', sans-serif" font-size="7" font-weight="400" text-anchor="end" fill="#333" transform="matrix(1 0 0 1.12 0 -38.340)">44.2</text>
<text x="92.60" y="429.20" font-family="'Liberation Serif', serif" font-size="5.9" font-weight="700" text-anchor="middle" fill="#000">X (μm)</text>
<text x="10.30" y="363.90" font-family="'Liberation Serif', serif" font-size="5.9" font-weight="700" text-anchor="middle" fill="#000" transform="rotate(-90 10.299999999999997 363.9)">Z (μm)</text>
<text x="142.30" y="332.20" font-family="'Liberation Sans', sans-serif" font-size="8.3" font-weight="400" text-anchor="end" fill="#111">HeLa</text>
<path d="M109.0 335.7 L82.1 339.3 L79.3 340.2 L70.7 350.9 L86.6 344.3 L85.2 348.4 L77.0 353.9 L74.6 360.7 L75.7 364.2 L83.9 366.6 L84.8 363.5 L86.6 361.1 L94.8 357.0 L101.6 353.2 L104.3 352.5 L104.6 372.1 L108.7 369.6 L111.4 365.5 L101.2 370.7 L77.6 369.6 L79.3 375.1 L84.8 382.6 M86.6 361.1 L89.6 368.0 L93.4 369.6 M104.3 352.5 L102.6 362.8 " stroke="#2020ee" stroke-width="0.75" fill="none" stroke-linejoin="round"/>
<circle cx="109.00" cy="335.70" r="1.45" fill="none" stroke="#ff1010" stroke-width="0.7"/>
<circle cx="82.10" cy="339.30" r="1.45" fill="none" stroke="#ff1010" stroke-width="0.7"/>
<circle cx="79.30" cy="340.20" r="1.45" fill="none" stroke="#ff1010" stroke-width="0.7"/>
<circle cx="86.60" cy="344.30" r="1.45" fill="none" stroke="#ff1010" stroke-width="0.7"/>
<circle cx="85.20" cy="348.40" r="1.45" fill="none" stroke="#ff1010" stroke-width="0.7"/>
<circle cx="70.70" cy="350.90" r="1.45" fill="none" stroke="#ff1010" stroke-width="0.7"/>
<circle cx="77.00" cy="353.90" r="1.45" fill="none" stroke="#ff1010" stroke-width="0.7"/>
<circle cx="74.60" cy="360.70" r="1.45" fill="none" stroke="#ff1010" stroke-width="0.7"/>
<circle cx="75.70" cy="364.20" r="1.45" fill="none" stroke="#ff1010" stroke-width="0.7"/>
<circle cx="83.90" cy="366.60" r="1.45" fill="none" stroke="#ff1010" stroke-width="0.7"/>
<circle cx="84.80" cy="363.50" r="1.45" fill="none" stroke="#ff1010" stroke-width="0.7"/>
<circle cx="86.60" cy="361.10" r="1.45" fill="none" stroke="#ff1010" stroke-width="0.7"/>
<circle cx="94.80" cy="357.00" r="1.45" fill="none" stroke="#ff1010" stroke-width="0.7"/>
<circle cx="101.60" cy="353.20" r="1.45" fill="none" stroke="#ff1010" stroke-width="0.7"/>
<circle cx="104.30" cy="352.50" r="1.45" fill="none" stroke="#ff1010" stroke-width="0.7"/>
<circle cx="102.60" cy="362.80" r="1.45" fill="none" stroke="#ff1010" stroke-width="0.7"/>
<circle cx="89.60" cy="368.00" r="1.45" fill="none" stroke="#ff1010" stroke-width="0.7"/>
<circle cx="93.40" cy="369.60" r="1.45" fill="none" stroke="#ff1010" stroke-width="0.7"/>
<circle cx="77.60" cy="369.60" r="1.45" fill="none" stroke="#ff1010" stroke-width="0.7"/>
<circle cx="101.20" cy="370.70" r="1.45" fill="none" stroke="#ff1010" stroke-width="0.7"/>
<circle cx="104.60" cy="372.10" r="1.45" fill="none" stroke="#ff1010" stroke-width="0.7"/>
<circle cx="108.70" cy="369.60" r="1.45" fill="none" stroke="#ff1010" stroke-width="0.7"/>
<circle cx="111.40" cy="365.50" r="1.45" fill="none" stroke="#ff1010" stroke-width="0.7"/>
<circle cx="79.30" cy="375.10" r="1.45" fill="none" stroke="#ff1010" stroke-width="0.7"/>
<circle cx="84.80" cy="382.60" r="1.45" fill="none" stroke="#ff1010" stroke-width="0.7"/>
<text x="197.50" y="309.60" font-family="'Liberation Sans', sans-serif" font-size="8.5" font-weight="700" textLength="4.2" lengthAdjust="spacingAndGlyphs">J</text>
<rect x="210.80" y="315.30" width="122.00" height="96.10" fill="none" stroke="#7c7c7c" stroke-width="0.9"/>
<text x="210.80" y="421.20" font-family="'Liberation Sans', sans-serif" font-size="7" font-weight="400" text-anchor="middle" fill="#333" transform="matrix(1 0 0 1.12 0 -50.544)">70.92</text>
<line x1="241.30" y1="315.30" x2="241.30" y2="316.90" stroke="#7c7c7c" stroke-width="0.7"/>
<line x1="241.30" y1="411.40" x2="241.30" y2="409.80" stroke="#7c7c7c" stroke-width="0.7"/>
<text x="241.30" y="421.20" font-family="'Liberation Sans', sans-serif" font-size="7" font-weight="400" text-anchor="middle" fill="#333" transform="matrix(1 0 0 1.12 0 -50.544)">70.98</text>
<line x1="271.80" y1="315.30" x2="271.80" y2="316.90" stroke="#7c7c7c" stroke-width="0.7"/>
<line x1="271.80" y1="411.40" x2="271.80" y2="409.80" stroke="#7c7c7c" stroke-width="0.7"/>
<text x="271.80" y="421.20" font-family="'Liberation Sans', sans-serif" font-size="7" font-weight="400" text-anchor="middle" fill="#333" transform="matrix(1 0 0 1.12 0 -50.544)">71.04</text>
<line x1="302.30" y1="315.30" x2="302.30" y2="316.90" stroke="#7c7c7c" stroke-width="0.7"/>
<line x1="302.30" y1="411.40" x2="302.30" y2="409.80" stroke="#7c7c7c" stroke-width="0.7"/>
<text x="302.30" y="421.20" font-family="'Liberation Sans', sans-serif" font-size="7" font-weight="400" text-anchor="middle" fill="#333" transform="matrix(1 0 0 1.12 0 -50.544)">71.10</text>
<text x="332.80" y="421.20" font-family="'Liberation Sans', sans-serif" font-size="7" font-weight="400" text-anchor="middle" fill="#333" transform="matrix(1 0 0 1.12 0 -50.544)">71.16</text>
<text x="207.80" y="414.60" font-family="'Liberation Sans', sans-serif" font-size="7" font-weight="400" text-anchor="end" fill="#333" transform="matrix(1 0 0 1.12 0 -49.752)">43.50</text>
<line x1="210.80" y1="387.38" x2="212.40" y2="387.38" stroke="#7c7c7c" stroke-width="0.7"/>
<line x1="332.80" y1="387.38" x2="331.20" y2="387.38" stroke="#7c7c7c" stroke-width="0.7"/>
<text x="207.80" y="390.57" font-family="'Liberation Sans', sans-serif" font-size="7" font-weight="400" text-anchor="end" fill="#333" transform="matrix(1 0 0 1.12 0 -46.869)">43.58</text>
<line x1="210.80" y1="363.35" x2="212.40" y2="363.35" stroke="#7c7c7c" stroke-width="0.7"/>
<line x1="332.80" y1="363.35" x2="331.20" y2="363.35" stroke="#7c7c7c" stroke-width="0.7"/>
<text x="207.80" y="366.55" font-family="'Liberation Sans', sans-serif" font-size="7" font-weight="400" text-anchor="end" fill="#333" transform="matrix(1 0 0 1.12 0 -43.986)">43.66</text>
<line x1="210.80" y1="339.32" x2="212.40" y2="339.32" stroke="#7c7c7c" stroke-width="0.7"/>
<line x1="332.80" y1="339.32" x2="331.20" y2="339.32" stroke="#7c7c7c" stroke-width="0.7"/>
<text x="207.80" y="342.52" font-family="'Liberation Sans', sans-serif" font-size="7" font-weight="400" text-anchor="end" fill="#333" transform="matrix(1 0 0 1.12 0 -41.103)">43.74</text>
<text x="207.80" y="318.50" font-family="'Liberation Sans', sans-serif" font-size="7" font-weight="400" text-anchor="end" fill="#333" transform="matrix(1 0 0 1.12 0 -38.220)">43.82</text>
<text x="271.80" y="429.10" font-family="'Liberation Serif', serif" font-size="5.9" font-weight="700" text-anchor="middle" fill="#000">X (μm)</text>
<text x="189.20" y="363.35" font-family="'Liberation Serif', serif" font-size="5.9" font-weight="700" text-anchor="middle" fill="#000" transform="rotate(-90 189.20000000000002 363.35)">Z (μm)</text>
<text x="323.60" y="330.50" font-family="'Liberation Sans', sans-serif" font-size="8.3" font-weight="400" text-anchor="end" fill="#111">NIH 3T3</text>
<path d="M250.7 354.3 L252.1 336.6 L277.3 349.4 L262.5 350.2 L269.6 364.5 L266.6 369.4 L280.8 383.1 M257.0 363.5 L269.6 364.5 M257.0 363.5 L279.5 378.6 L273.0 384.4 L270.3 379.9 L266.6 369.4 " stroke="#2020ee" stroke-width="0.75" fill="none" stroke-linejoin="round"/>
<circle cx="252.10" cy="336.60" r="1.45" fill="none" stroke="#ff1010" stroke-width="0.7"/>
<circle cx="277.30" cy="349.40" r="1.45" fill="none" stroke="#ff1010" stroke-width="0.7"/>
<circle cx="262.50" cy="350.20" r="1.45" fill="none" stroke="#ff1010" stroke-width="0.7"/>
<circle cx="250.70" cy="354.30" r="1.45" fill="none" stroke="#ff1010" stroke-width="0.7"/>
<circle cx="257.00" cy="363.50" r="1.45" fill="none" stroke="#ff1010" stroke-width="0.7"/>
<circle cx="269.60" cy="364.50" r="1.45" fill="none" stroke="#ff1010" stroke-width="0.7"/>
<circle cx="266.60" cy="369.40" r="1.45" fill="none" stroke="#ff1010" stroke-width="0.7"/>
<circle cx="270.30" cy="379.90" r="1.45" fill="none" stroke="#ff1010" stroke-width="0.7"/>
<circle cx="279.50" cy="378.60" r="1.45" fill="none" stroke="#ff1010" stroke-width="0.7"/>
<circle cx="273.00" cy="384.40" r="1.45" fill="none" stroke="#ff1010" stroke-width="0.7"/>
<circle cx="280.80" cy="383.10" r="1.45" fill="none" stroke="#ff1010" stroke-width="0.7"/>
<text x="348.30" y="312.80" font-family="'Liberation Sans', sans-serif" font-size="8.5" font-weight="700" textLength="5.5" lengthAdjust="spacingAndGlyphs">K</text>
<rect x="375.70" y="314.70" width="121.80" height="96.70" fill="none" stroke="#7c7c7c" stroke-width="0.9"/>
<text x="375.70" y="421.20" font-family="'Liberation Sans', sans-serif" font-size="7" font-weight="400" text-anchor="middle" fill="#333" transform="matrix(1 0 0 1.12 0 -50.544)">45.6</text>
<line x1="406.15" y1="314.70" x2="406.15" y2="316.30" stroke="#7c7c7c" stroke-width="0.7"/>
<line x1="406.15" y1="411.40" x2="406.15" y2="409.80" stroke="#7c7c7c" stroke-width="0.7"/>
<text x="406.15" y="421.20" font-family="'Liberation Sans', sans-serif" font-size="7" font-weight="400" text-anchor="middle" fill="#333" transform="matrix(1 0 0 1.12 0 -50.544)">45.7</text>
<line x1="436.60" y1="314.70" x2="436.60" y2="316.30" stroke="#7c7c7c" stroke-width="0.7"/>
<line x1="436.60" y1="411.40" x2="436.60" y2="409.80" stroke="#7c7c7c" stroke-width="0.7"/>
<text x="436.60" y="421.20" font-family="'Liberation Sans', sans-serif" font-size="7" font-weight="400" text-anchor="middle" fill="#333" transform="matrix(1 0 0 1.12 0 -50.544)">45.8</text>
<line x1="467.05" y1="314.70" x2="467.05" y2="316.30" stroke="#7c7c7c" stroke-width="0.7"/>
<line x1="467.05" y1="411.40" x2="467.05" y2="409.80" stroke="#7c7c7c" stroke-width="0.7"/>
<text x="467.05" y="421.20" font-family="'Liberation Sans', sans-serif" font-size="7" font-weight="400" text-anchor="middle" fill="#333" transform="matrix(1 0 0 1.12 0 -50.544)">45.9</text>
<text x="497.50" y="421.20" font-family="'Liberation Sans', sans-serif" font-size="7" font-weight="400" text-anchor="middle" fill="#333" transform="matrix(1 0 0 1.12 0 -50.544)">46.0</text>
<text x="372.70" y="414.60" font-family="'Liberation Sans', sans-serif" font-size="7" font-weight="400" text-anchor="end" fill="#333" transform="matrix(1 0 0 1.12 0 -49.752)">50.6</text>
<line x1="375.70" y1="387.22" x2="377.30" y2="387.22" stroke="#7c7c7c" stroke-width="0.7"/>
<line x1="497.50" y1="387.22" x2="495.90" y2="387.22" stroke="#7c7c7c" stroke-width="0.7"/>
<text x="372.70" y="390.42" font-family="'Liberation Sans', sans-serif" font-size="7" font-weight="400" text-anchor="end" fill="#333" transform="matrix(1 0 0 1.12 0 -46.851)">50.8</text>
<line x1="375.70" y1="363.05" x2="377.30" y2="363.05" stroke="#7c7c7c" stroke-width="0.7"/>
<line x1="497.50" y1="363.05" x2="495.90" y2="363.05" stroke="#7c7c7c" stroke-width="0.7"/>
<text x="372.70" y="366.25" font-family="'Liberation Sans', sans-serif" font-size="7" font-weight="400" text-anchor="end" fill="#333" transform="matrix(1 0 0 1.12 0 -43.950)">51.0</text>
<line x1="375.70" y1="338.88" x2="377.30" y2="338.88" stroke="#7c7c7c" stroke-width="0.7"/>
<line x1="497.50" y1="338.88" x2="495.90" y2="338.88" stroke="#7c7c7c" stroke-width="0.7"/>
<text x="372.70" y="342.07" font-family="'Liberation Sans', sans-serif" font-size="7" font-weight="400" text-anchor="end" fill="#333" transform="matrix(1 0 0 1.12 0 -41.049)">51.2</text>
<text x="372.70" y="317.90" font-family="'Liberation Sans', sans-serif" font-size="7" font-weight="400" text-anchor="end" fill="#333" transform="matrix(1 0 0 1.12 0 -38.148)">51.4</text>
<text x="436.60" y="429.10" font-family="'Liberation Serif', serif" font-size="5.9" font-weight="700" text-anchor="middle" fill="#000">X (μm)</text>
<text x="354.10" y="363.05" font-family="'Liberation Serif', serif" font-size="5.9" font-weight="700" text-anchor="middle" fill="#000" transform="rotate(-90 354.09999999999997 363.04999999999995)">Z (μm)</text>
<text x="486.80" y="330.50" font-family="'Liberation Sans', sans-serif" font-size="8.3" font-weight="400" text-anchor="end" fill="#111">HEK</text>
<path d="M407.7 343.9 L427.1 347.1 L457.5 347.1 L422.2 340.8 L436.4 347.6 L437.6 351.9 L442.1 358.5 L436.2 358.7 M418.8 353.9 L437.6 351.9 L454.4 354.8 L457.5 347.1 L447.6 363.8 L449.5 373.0 L464.3 373.8 L467.2 373.0 M442.1 358.5 L440.4 361.0 L432.4 363.0 L464.3 373.8 M447.6 363.8 L451.8 363.6 " stroke="#2020ee" stroke-width="0.75" fill="none" stroke-linejoin="round"/>
<circle cx="422.20" cy="338.90" r="1.45" fill="none" stroke="#ff1010" stroke-width="0.7"/>
<circle cx="422.20" cy="340.80" r="1.45" fill="none" stroke="#ff1010" stroke-width="0.7"/>
<circle cx="407.70" cy="343.90" r="1.45" fill="none" stroke="#ff1010" stroke-width="0.7"/>
<circle cx="427.10" cy="347.10" r="1.45" fill="none" stroke="#ff1010" stroke-width="0.7"/>
<circle cx="436.40" cy="347.60" r="1.45" fill="none" stroke="#ff1010" stroke-width="0.7"/>
<circle cx="457.50" cy="347.10" r="1.45" fill="none" stroke="#ff1010" stroke-width="0.7"/>
<circle cx="437.60" cy="351.90" r="1.45" fill="none" stroke="#ff1010" stroke-width="0.7"/>
<circle cx="418.80" cy="353.90" r="1.45" fill="none" stroke="#ff1010" stroke-width="0.7"/>
<circle cx="454.40" cy="354.80" r="1.45" fill="none" stroke="#ff1010" stroke-width="0.7"/>
<circle cx="436.20" cy="358.70" r="1.45" fill="none" stroke="#ff1010" stroke-width="0.7"/>
<circle cx="442.10" cy="358.50" r="1.45" fill="none" stroke="#ff1010" stroke-width="0.7"/>
<circle cx="440.40" cy="361.00" r="1.45" fill="none" stroke="#ff1010" stroke-width="0.7"/>
<circle cx="432.40" cy="363.00" r="1.45" fill="none" stroke="#ff1010" stroke-width="0.7"/>
<circle cx="447.60" cy="363.80" r="1.45" fill="none" stroke="#ff1010" stroke-width="0.7"/>
<circle cx="451.80" cy="363.60" r="1.45" fill="none" stroke="#ff1010" stroke-width="0.7"/>
<circle cx="449.50" cy="373.00" r="1.45" fill="none" stroke="#ff1010" stroke-width="0.7"/>
<circle cx="464.30" cy="373.80" r="1.45" fill="none" stroke="#ff1010" stroke-width="0.7"/>
<circle cx="467.20" cy="373.00" r="1.45" fill="none" stroke="#ff1010" stroke-width="0.7"/>
<text x="532.00" y="169.20" font-family="'Liberation Sans', sans-serif" font-size="8.5" font-weight="700" textLength="5.8" lengthAdjust="spacingAndGlyphs">H</text>
<rect x="578.60" y="201.00" width="22.60" height="72.50" fill="#0a6ebd"/>
<line x1="589.90" y1="189.30" x2="589.90" y2="213.60" stroke="#222" stroke-width="0.8"/>
<line x1="588.70" y1="189.30" x2="591.10" y2="189.30" stroke="#222" stroke-width="0.8"/>
<line x1="588.70" y1="213.60" x2="591.10" y2="213.60" stroke="#222" stroke-width="0.8"/>
<rect x="607.10" y="206.52" width="22.60" height="66.98" fill="#0a6ebd"/>
<line x1="618.40" y1="199.60" x2="618.40" y2="212.60" stroke="#222" stroke-width="0.8"/>
<line x1="617.20" y1="199.60" x2="619.60" y2="199.60" stroke="#222" stroke-width="0.8"/>
<line x1="617.20" y1="212.60" x2="619.60" y2="212.60" stroke="#222" stroke-width="0.8"/>
<rect x="635.40" y="198.44" width="22.60" height="75.06" fill="#0a6ebd"/>
<line x1="646.70" y1="184.90" x2="646.70" y2="212.00" stroke="#222" stroke-width="0.8"/>
<line x1="645.50" y1="184.90" x2="647.90" y2="184.90" stroke="#222" stroke-width="0.8"/>
<line x1="645.50" y1="212.00" x2="647.90" y2="212.00" stroke="#222" stroke-width="0.8"/>
<rect x="555.80" y="175.00" width="124.50" height="98.50" fill="none" stroke="#7c7c7c" stroke-width="0.9"/>
<text x="552.50" y="276.80" font-family="'Liberation Sans', sans-serif" font-size="7" font-weight="400" text-anchor="end" fill="#333" transform="matrix(1 0 0 1.12 0 -33.216)">0</text>
<line x1="555.80" y1="253.80" x2="557.40" y2="253.80" stroke="#7c7c7c" stroke-width="0.7"/>
<line x1="680.30" y1="253.80" x2="678.70" y2="253.80" stroke="#7c7c7c" stroke-width="0.7"/>
<text x="552.50" y="257.10" font-family="'Liberation Sans', sans-serif" font-size="7" font-weight="400" text-anchor="end" fill="#333" transform="matrix(1 0 0 1.12 0 -30.852)">0.1</text>
<line x1="555.80" y1="234.10" x2="557.40" y2="234.10" stroke="#7c7c7c" stroke-width="0.7"/>
<line x1="680.30" y1="234.10" x2="678.70" y2="234.10" stroke="#7c7c7c" stroke-width="0.7"/>
<text x="552.50" y="237.40" font-family="'Liberation Sans', sans-serif" font-size="7" font-weight="400" text-anchor="end" fill="#333" transform="matrix(1 0 0 1.12 0 -28.488)">0.2</text>
<line x1="555.80" y1="214.40" x2="557.40" y2="214.40" stroke="#7c7c7c" stroke-width="0.7"/>
<line x1="680.30" y1="214.40" x2="678.70" y2="214.40" stroke="#7c7c7c" stroke-width="0.7"/>
<text x="552.50" y="217.70" font-family="'Liberation Sans', sans-serif" font-size="7" font-weight="400" text-anchor="end" fill="#333" transform="matrix(1 0 0 1.12 0 -26.124)">0.3</text>
<line x1="555.80" y1="194.70" x2="557.40" y2="194.70" stroke="#7c7c7c" stroke-width="0.7"/>
<line x1="680.30" y1="194.70" x2="678.70" y2="194.70" stroke="#7c7c7c" stroke-width="0.7"/>
<text x="552.50" y="198.00" font-family="'Liberation Sans', sans-serif" font-size="7" font-weight="400" text-anchor="end" fill="#333" transform="matrix(1 0 0 1.12 0 -23.760)">0.4</text>
<text x="552.50" y="178.30" font-family="'Liberation Sans', sans-serif" font-size="7" font-weight="400" text-anchor="end" fill="#333" transform="matrix(1 0 0 1.12 0 -21.396)">0.5</text>
<text x="536.30" y="221.60" font-family="'Liberation Sans', sans-serif" font-size="8.2" font-weight="400" text-anchor="middle" fill="#111" transform="rotate(-90 536.3 221.6)">Trap Stiffness (pN/μm)</text>
<text x="586.60" y="186.80" font-family="'Liberation Sans', sans-serif" font-size="8.3" font-weight="400" text-anchor="middle" fill="#111">0.37±0.06</text>
<text x="618.50" y="197.00" font-family="'Liberation Sans', sans-serif" font-size="8.3" font-weight="400" text-anchor="middle" fill="#111">0.34±0.034</text>
<text x="645.40" y="183.90" font-family="'Liberation Sans', sans-serif" font-size="8.3" font-weight="400" text-anchor="middle" fill="#111">0.38 ± 0.07</text>
<g transform="rotate(-48 579.6 293.7)"><text x="579.6" y="293.7" font-family="'Liberation Sans', sans-serif" font-size="8.7" text-anchor="middle" fill="#111"><tspan x="579.6">Polystrene</tspan><tspan x="582.0" dy="8.8">1.5 μm</tspan></text></g>
<g transform="rotate(-48 611.6 289.9)"><text x="611.6" y="289.9" font-family="'Liberation Sans', sans-serif" font-size="8.7" text-anchor="middle" fill="#111"><tspan x="611.6">Silica</tspan><tspan x="614.0" dy="8.8">2 μm</tspan></text></g>
<g transform="rotate(-48 640.3 293.9)"><text x="640.3" y="293.9" font-family="'Liberation Sans', sans-serif" font-size="8.7" text-anchor="middle" fill="#111"><tspan x="640.3">Polystrene</tspan><tspan x="642.6999999999999" dy="8.8">5 μm</tspan></text></g>
<text x="532.70" y="312.60" font-family="'Liberation Sans', sans-serif" font-size="8.5" font-weight="700" textLength="4.6" lengthAdjust="spacingAndGlyphs">L</text>
<rect x="578.10" y="369.93" width="22.60" height="42.18" fill="#0a6ebd"/>
<line x1="589.40" y1="351.40" x2="589.40" y2="389.50" stroke="#222" stroke-width="0.8"/>
<line x1="588.20" y1="351.40" x2="590.60" y2="351.40" stroke="#222" stroke-width="0.8"/>
<line x1="588.20" y1="389.50" x2="590.60" y2="389.50" stroke="#222" stroke-width="0.8"/>
<rect x="605.90" y="371.49" width="22.70" height="40.61" fill="#0a6ebd"/>
<line x1="617.25" y1="361.30" x2="617.25" y2="382.60" stroke="#222" stroke-width="0.8"/>
<line x1="616.05" y1="361.30" x2="618.45" y2="361.30" stroke="#222" stroke-width="0.8"/>
<line x1="616.05" y1="382.60" x2="618.45" y2="382.60" stroke="#222" stroke-width="0.8"/>
<rect x="634.50" y="348.72" width="21.90" height="63.38" fill="#0a6ebd"/>
<line x1="645.45" y1="329.40" x2="645.45" y2="368.50" stroke="#222" stroke-width="0.8"/>
<line x1="644.25" y1="329.40" x2="646.65" y2="329.40" stroke="#222" stroke-width="0.8"/>
<line x1="644.25" y1="368.50" x2="646.65" y2="368.50" stroke="#222" stroke-width="0.8"/>
<rect x="555.80" y="315.70" width="122.90" height="96.40" fill="none" stroke="#7c7c7c" stroke-width="0.9"/>
<text x="552.50" y="415.40" font-family="'Liberation Sans', sans-serif" font-size="7" font-weight="400" text-anchor="end" fill="#333" transform="matrix(1 0 0 1.12 0 -49.848)">0</text>
<line x1="555.80" y1="388.00" x2="557.40" y2="388.00" stroke="#7c7c7c" stroke-width="0.7"/>
<line x1="678.70" y1="388.00" x2="677.10" y2="388.00" stroke="#7c7c7c" stroke-width="0.7"/>
<text x="552.50" y="391.30" font-family="'Liberation Sans', sans-serif" font-size="7" font-weight="400" text-anchor="end" fill="#333" transform="matrix(1 0 0 1.12 0 -46.956)">0.2</text>
<line x1="555.80" y1="363.90" x2="557.40" y2="363.90" stroke="#7c7c7c" stroke-width="0.7"/>
<line x1="678.70" y1="363.90" x2="677.10" y2="363.90" stroke="#7c7c7c" stroke-width="0.7"/>
<text x="552.50" y="367.20" font-family="'Liberation Sans', sans-serif" font-size="7" font-weight="400" text-anchor="end" fill="#333" transform="matrix(1 0 0 1.12 0 -44.064)">0.4</text>
<line x1="555.80" y1="339.80" x2="557.40" y2="339.80" stroke="#7c7c7c" stroke-width="0.7"/>
<line x1="678.70" y1="339.80" x2="677.10" y2="339.80" stroke="#7c7c7c" stroke-width="0.7"/>
<text x="552.50" y="343.10" font-family="'Liberation Sans', sans-serif" font-size="7" font-weight="400" text-anchor="end" fill="#333" transform="matrix(1 0 0 1.12 0 -41.172)">0.6</text>
<text x="552.50" y="319.00" font-family="'Liberation Sans', sans-serif" font-size="7" font-weight="400" text-anchor="end" fill="#333" transform="matrix(1 0 0 1.12 0 -38.280)">0.8</text>
<text x="535.20" y="360.10" font-family="'Liberation Sans', sans-serif" font-size="8.2" font-weight="400" text-anchor="middle" fill="#111" transform="rotate(-90 535.2 360.1)">Trap Stiffness (pN/μm)</text>
<text x="588.60" y="348.10" font-family="'Liberation Sans', sans-serif" font-size="8.3" font-weight="400" text-anchor="middle" fill="#111">0.35±0.16</text>
<text x="614.30" y="358.60" font-family="'Liberation Sans', sans-serif" font-size="8.3" font-weight="400" text-anchor="middle" fill="#111">0.33±0.09</text>
<text x="642.60" y="326.80" font-family="'Liberation Sans', sans-serif" font-size="8.3" font-weight="400" text-anchor="middle" fill="#111">0.52 ± 0.15</text>
<text x="586.80" y="428.80" font-family="'Liberation Sans', sans-serif" font-size="8.7" font-weight="400" text-anchor="middle" fill="#111" transform="rotate(-48 586.8 428.8)">HELA</text>
<text x="619.60" y="429.40" font-family="'Liberation Sans', sans-serif" font-size="8.7" font-weight="400" text-anchor="middle" fill="#111" transform="rotate(-48 619.6 429.4)">HEK</text>
<text x="643.30" y="428.80" font-family="'Liberation Sans', sans-serif" font-size="8.7" font-weight="400" text-anchor="middle" fill="#111" transform="rotate(-48 643.3 428.8)">NIH3T3</text>
</svg>
</body></html>
